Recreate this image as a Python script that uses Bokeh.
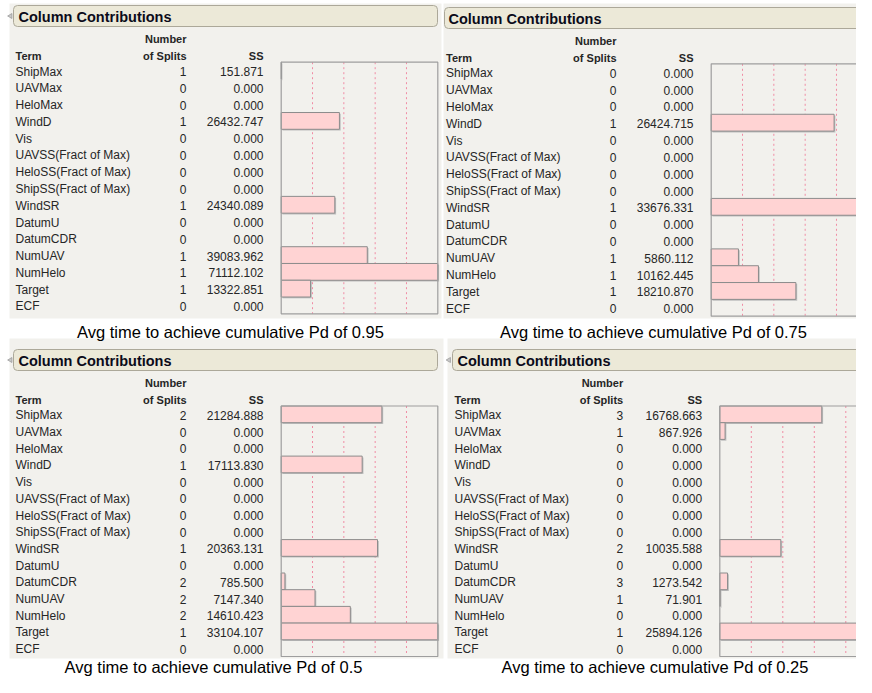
import numpy as np
from bokeh.plotting import figure
from bokeh.models import Range1d, ColumnDataSource
from bokeh.core.properties import value
from bokeh.embed import file_html
from bokeh.resources import INLINE

# ---------------- data ----------------
terms = ["ShipMax", "UAVMax", "HeloMax", "WindD", "Vis", "UAVSS(Fract of Max)",
         "HeloSS(Fract of Max)", "ShipSS(Fract of Max)", "WindSR", "DatumU",
         "DatumCDR", "NumUAV", "NumHelo", "Target", "ECF"]

splits_095 = [1, 0, 0, 1, 0, 0, 0, 0, 1, 0, 0, 1, 1, 1, 0]
ss_095 = [151.871, 0.0, 0.0, 26432.747, 0.0, 0.0, 0.0, 0.0, 24340.089, 0.0, 0.0,
          39083.962, 71112.102, 13322.851, 0.0]

splits_075 = [0, 0, 0, 1, 0, 0, 0, 0, 1, 0, 0, 1, 1, 1, 0]
ss_075 = [0.0, 0.0, 0.0, 26424.715, 0.0, 0.0, 0.0, 0.0, 33676.331, 0.0, 0.0,
          5860.112, 10162.445, 18210.870, 0.0]

splits_050 = [2, 0, 0, 1, 0, 0, 0, 0, 1, 0, 2, 2, 2, 1, 0]
ss_050 = [21284.888, 0.0, 0.0, 17113.830, 0.0, 0.0, 0.0, 0.0, 20363.131, 0.0, 785.500,
          7147.340, 14610.423, 33104.107, 0.0]

splits_025 = [3, 1, 0, 0, 0, 0, 0, 0, 2, 0, 3, 1, 0, 1, 0]
ss_025 = [16768.663, 867.926, 0.0, 0.0, 0.0, 0.0, 0.0, 0.0, 10035.588, 0.0, 1273.542,
          71.901, 0.0, 25894.126, 0.0]

captions = ["Avg time to achieve cumulative Pd of 0.95",
            "Avg time to achieve cumulative Pd of 0.75",
            "Avg time to achieve cumulative Pd of 0.5",
            "Avg time to achieve cumulative Pd of 0.25"]

panel_title = "Column Contributions"
col_term = "Term"
col_splits = ["Number", "of Splits"]
col_ss = "SS"
grid_fracs = [0.2, 0.4, 0.6, 0.8]

# ---------------- layout (page geometry) ----------------
W, H = 856, 677
X0, X1 = 0, 856
Y_TOP, Y_BOT = 0, 677

panels = [
    dict(key="a", ss=ss_095, splits=splits_095, cap=captions[0],
         bg=(9, 441, 3, 318), hdr=(13, 437, 5, 26), title_x=18, icon=(10, 15.5),
         term_x=15, splits_x=186, ss_x=263, num_y=38.3, term_y=55,
         frame=(280.7, 61.7, 437.3, 313.3), cap_xy=(230, 331)),
    dict(key="b", ss=ss_075, splits=splits_075, cap=captions[1],
         bg=(443, 872, 3, 318), hdr=(444, 868, 7, 28), title_x=448, icon=None,
         term_x=445.5, splits_x=616, ss_x=693, num_y=40.5, term_y=57,
         frame=(710.7, 63.3, 867.3, 315.7), cap_xy=(653, 331)),
    dict(key="c", ss=ss_050, splits=splits_050, cap=captions[2],
         bg=(9, 443, 338, 658), hdr=(13, 437, 349, 370), title_x=18, icon=(10, 359.5),
         term_x=15, splits_x=186, ss_x=263, num_y=382.3, term_y=399,
         frame=(280.7, 405.5, 437.3, 656.0), cap_xy=(213, 666.5)),
    dict(key="d", ss=ss_025, splits=splits_025, cap=captions[3],
         bg=(447, 872, 338, 658), hdr=(452, 880, 349, 370), title_x=457, icon=(448.5, 359.5),
         term_x=454, splits_x=622.7, ss_x=701.7, num_y=382.3, term_y=399,
         frame=(719.3, 405.5, 876.8, 656.0), cap_xy=(654.5, 666.5)),
]

FONT = value("Liberation Sans")
PANEL_BG = "#F2F1ED"
HDR_FILL = "#ECE9D8"
HDR_LINE = "#ACA899"
BAR_FILL = "#FFD3D3"
BAR_LINE = "#8C8C8C"
BAR_SHADOW = "#BEBEBE"
FRAME_LINE = "#9E9E9E"
GRID_LINE = "#F08CA4"
TXT = "#262626"

p = figure(width=W, height=H, x_range=Range1d(X0, X1), y_range=Range1d(Y_BOT, Y_TOP),
           output_backend="svg", toolbar_location=None, min_border=0,
           x_axis_location=None, y_axis_location=None, title=None)
p.grid.visible = False
p.outline_line_color = None
p.background_fill_color = "white"
p.border_fill_color = "white"

n = len(terms)
idx = np.arange(n)

for pn in panels:
    k = pn["key"]
    ss = np.array(pn["ss"], dtype=float)
    mx = ss.max()
    fx0, fy0, fx1, fy1 = pn["frame"]
    rh = (fy1 - fy0) / n
    kx = mx / (fx1 - fx0)          # data units per pixel on the SS axis
    xr, yr = "ss" + k, "row" + k
    p.extra_x_ranges[xr] = Range1d(start=(X0 - fx0) * kx, end=(X1 - fx0) * kx)
    p.extra_y_ranges[yr] = Range1d(start=(Y_BOT - fy0) / rh - 0.5, end=(Y_TOP - fy0) / rh - 0.5)

    # panel background
    bx0, bx1, by0, by1 = pn["bg"]
    p.quad(left=[bx0], right=[bx1], top=[by0], bottom=[by1], fill_color=PANEL_BG, line_color=None)

    # header bar
    hx0, hx1, hy0, hy1 = pn["hdr"]
    p.quad(left=[hx0], right=[hx1], top=[hy0], bottom=[hy1], fill_color=HDR_FILL,
           line_color=HDR_LINE, line_width=1, border_radius=4)
    p.text(x=[pn["title_x"]], y=[(hy0 + hy1) / 2 + 0.5], text=[panel_title], text_font=FONT,
           text_font_size="14.5px", text_font_style="bold", text_color="#0B0B1A",
           text_align="left", text_baseline="middle")
    if pn["icon"] is not None:
        p.scatter(x=[pn["icon"][0]], y=[pn["icon"][1]], marker="triangle", size=5, angle=np.pi / 2,
                  fill_color="#C8C8C8", line_color="#8A8A8A", line_width=0.6)

    # column headers
    p.text(x=[pn["splits_x"]], y=[pn["num_y"]], text=[col_splits[0]], text_font=FONT,
           text_font_size="11px", text_font_style="bold", text_color=TXT,
           text_align="right", text_baseline="middle")
    p.text(x=[pn["term_x"], pn["splits_x"], pn["ss_x"]], y=[pn["term_y"]] * 3,
           text=[col_term, col_splits[1], col_ss], text_font=FONT, text_font_size="11px",
           text_font_style="bold", text_color=TXT, text_align=["left", "right", "right"],
           text_baseline="middle")

    # table rows
    src = ColumnDataSource(dict(
        y=idx + 0.06, term=terms,
        sp=[str(s) for s in pn["splits"]],
        ssl=[f"{v:.3f}" for v in pn["ss"]],
        tx=[pn["term_x"]] * n, spx=[pn["splits_x"]] * n, ssx=[pn["ss_x"]] * n))
    for col, xc, al in (("term", "tx", "left"), ("sp", "spx", "right"), ("ssl", "ssx", "right")):
        p.text(x=xc, y="y", text=col, source=src, y_range_name=yr, text_font=FONT,
               text_font_size="12px", text_color=TXT, text_align=al, text_baseline="middle")

    # dashed reference lines
    gx = [f * mx for f in grid_fracs]
    p.segment(x0=gx, x1=gx, y0=[-0.5] * len(gx), y1=[n - 0.5] * len(gx),
              x_range_name=xr, y_range_name=yr, line_color=GRID_LINE, line_width=1,
              line_dash="2 3")

    # bars (with a light drop shadow, 1.3 px down-right)
    nz = ss > 0
    bsrc = ColumnDataSource(dict(y=idx[nz], right=ss[nz]))
    dx, dy = 1.3 * kx, 1.3 / rh
    p.hbar(y=idx[nz] + dy, left=dx, right=ss[nz] + dx, height=1, x_range_name=xr,
           y_range_name=yr, fill_color=BAR_SHADOW, line_color=None)
    p.hbar(y="y", left=0, right="right", height=1, source=bsrc, x_range_name=xr,
           y_range_name=yr, fill_color=BAR_FILL, line_color=BAR_LINE, line_width=1)

    # frame
    p.quad(left=[0], right=[mx], top=[-0.5], bottom=[n - 0.5], x_range_name=xr,
           y_range_name=yr, fill_color=None, line_color=FRAME_LINE, line_width=1.2)

# captions drawn last so no panel background covers them
p.text(x=[pn["cap_xy"][0] for pn in panels], y=[pn["cap_xy"][1] for pn in panels],
       text=[pn["cap"] for pn in panels], text_font=FONT, text_font_size="16.5px",
       text_color="#000000", text_align="center", text_baseline="middle")

open("out.html", "w").write(file_html(p, INLINE))
